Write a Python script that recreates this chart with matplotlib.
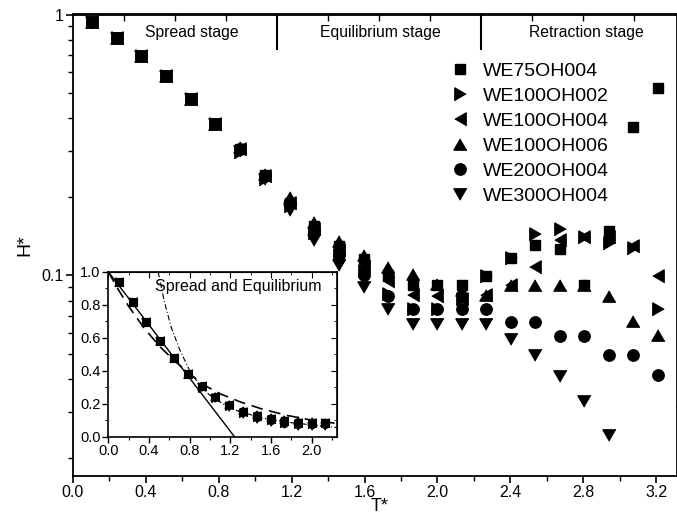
import matplotlib
matplotlib.use('Agg')
import matplotlib.pyplot as plt
import numpy as np
from matplotlib.ticker import MultipleLocator, FixedLocator, NullFormatter, FixedFormatter, LogLocator

plt.rcParams['font.family'] = ['Liberation Sans', 'DejaVu Sans']

nan = np.nan
T = [0.103, 0.241, 0.375, 0.510, 0.647, 0.781, 0.918, 1.052, 1.189, 1.323, 1.460, 1.595,
     1.731, 1.866, 2.000, 2.134, 2.268, 2.403, 2.537, 2.671, 2.806, 2.942, 3.076, 3.212, 3.350]

we75oh004 = [0.94, 0.815, 0.695, 0.582, 0.475, 0.381, 0.305, 0.242, 0.19, 0.155, 0.13, 0.115,
             0.100, 0.0916, 0.092, 0.0916, 0.0995, 0.116, 0.131, 0.126, 0.0916, 0.148, 0.369, 0.524, nan]
we100oh002 = [0.94, 0.815, 0.695, 0.582, 0.475, 0.381, 0.298, 0.235, 0.185, 0.145, 0.12, 0.104,
              0.085, 0.0745, 0.0745, 0.081, 0.0995, 0.116, 0.144, 0.150, 0.140, 0.133, 0.127, 0.0745, 0.0745]
we100oh004 = [0.94, 0.815, 0.695, 0.582, 0.475, 0.381, 0.305, 0.240, 0.19, 0.15, 0.125, 0.108,
              0.095, 0.0837, 0.083, 0.081, 0.0837, 0.0916, 0.108, 0.136, 0.140, 0.140, 0.130, 0.0995, 0.138]
we100oh006 = [0.94, 0.815, 0.695, 0.582, 0.475, 0.381, 0.31, 0.245, 0.20, 0.16, 0.135, 0.12,
              0.108, 0.101, 0.093, 0.088, 0.0837, 0.0916, 0.0916, 0.0916, 0.0916, 0.083, 0.067, 0.059, 0.033]
we200oh004 = [0.94, 0.815, 0.695, 0.582, 0.475, 0.381, 0.305, 0.24, 0.19, 0.148, 0.12, 0.10,
              0.083, 0.0745, 0.0745, 0.0745, 0.0745, 0.0665, 0.0665, 0.0584, 0.0584, 0.0495, 0.0495, 0.0414, nan]
we300oh004 = [0.94, 0.815, 0.695, 0.582, 0.475, 0.381, 0.30, 0.235, 0.178, 0.137, 0.11, 0.090,
              0.074, 0.065, 0.065, 0.065, 0.065, 0.0572, 0.0495, 0.0412, 0.033, 0.0245, nan, nan, nan]

# equilateral triangle markers (Origin style)
a = 1.1547
tri_up = [(0, 1), (-a, -1), (a, -1)]
tri_down = [(0, -1), (-a, 1), (a, 1)]
tri_right = [(1, 0), (-1, a), (-1, -a)]
tri_left = [(-1, 0), (1, a), (1, -a)]

series = [("WE75OH004", we75oh004, 's', 6.7),
          ("WE100OH002", we100oh002, tri_right, 9.4),
          ("WE100OH004", we100oh004, tri_left, 9.4),
          ("WE100OH006", we100oh006, tri_up, 9.4),
          ("WE200OH004", we200oh004, 'o', 8.2),
          ("WE300OH004", we300oh004, tri_down, 9.4)]

stage_labels = ["Spread stage", "Equilibrium stage", "Retraction stage"]
stage_centers = [0.651, 1.688, 2.816]
stage_bounds = [1.12, 2.24]

# inset fitted curves
solid_T = [0.0, 1.24]
solid_H = [1.0, 0.0]
dash_T = [0.0, 0.1, 0.2, 0.35, 0.5, 0.65, 0.8, 0.95, 1.1, 1.3, 1.5, 1.75, 2.0, 2.25]
dash_H = [1.0, 0.89, 0.79, 0.66, 0.55, 0.46, 0.38, 0.31, 0.26, 0.21, 0.17, 0.13, 0.10, 0.08]
dashdot_T = [0.49, 0.55, 0.62, 0.70, 0.80, 0.90, 1.0, 1.2, 1.5, 1.8, 2.25]
dashdot_H = [1.0, 0.82, 0.66, 0.53, 0.40, 0.31, 0.25, 0.17, 0.115, 0.085, 0.055]

W, H = 677, 515
fig = plt.figure(figsize=(W / 100, H / 100), dpi=100)
ax = fig.add_axes([73 / W, 39 / H, 604 / W, 461.5 / H])

for name, vals, m, ms in series:
    ax.plot(T, vals, linestyle='none', marker=m, markersize=ms, color='black', label=name)

ax.set_yscale('log')
ax.set_ylim(0.0170, 1.0)
ax.set_xlim(0, 3.315)
ax.yaxis.set_major_locator(FixedLocator([0.1, 1.0]))
ax.yaxis.set_major_formatter(FixedFormatter(['0.1', '1']))
ax.yaxis.set_minor_locator(LogLocator(base=10, subs=np.arange(2, 10)))
ax.yaxis.set_minor_formatter(NullFormatter())
ax.xaxis.set_major_locator(MultipleLocator(0.4))
ax.xaxis.set_minor_locator(MultipleLocator(0.2))
ax.xaxis.set_major_formatter(matplotlib.ticker.FormatStrFormatter('%.1f'))
ax.tick_params(axis='both', which='major', direction='out', length=5, width=1.2, labelsize=11.5, pad=1.5)
ax.tick_params(axis='both', which='minor', direction='out', length=3.5, width=1.0)
ax.tick_params(top=False, right=False, which='both')
for s in ax.spines.values():
    s.set_linewidth(1.3)
ax.set_xlabel('T*', fontsize=13, va='top')
ax.xaxis.set_label_coords((380 - 73) / 604, -(498 - 476) / 461.5)
ax.set_ylabel('H*', fontsize=14, labelpad=6)

sec = ax.secondary_xaxis('top')
sec.xaxis.set_major_locator(FixedLocator(stage_bounds))
sec.xaxis.set_minor_locator(FixedLocator([0.28 * k for k in range(1, 12) if k not in (4, 8)]))
sec.tick_params(which='major', direction='in', length=26, width=1.5, labeltop=False)
sec.tick_params(which='minor', direction='in', length=5, width=1.0)
sec.spines['top'].set_linewidth(1.3)

for lab, xc in zip(stage_labels, stage_centers):
    ax.text(xc, 0.96, lab, transform=ax.get_xaxis_transform(), ha='center', va='center', fontsize=11.3)

leg = ax.legend(loc='upper left', bbox_to_anchor=(450 / W, 1 - 62 / H), bbox_transform=fig.transFigure,
                frameon=False, fontsize=14, handlelength=1.0, handletextpad=0.7, labelspacing=0.38,
                borderpad=0, borderaxespad=0)

# inset
axi = fig.add_axes([108.3 / W, (H - 436.7) / H, 228.4 / W, 165 / H])
axi.set_facecolor('white')
nin = 16
for name, vals, m, ms in series:
    axi.plot(T[:nin], vals[:nin], linestyle='none', marker=m, markersize=ms * 0.68, color='black')
axi.plot(solid_T, solid_H, '-', color='black', lw=1.0)
axi.plot(dash_T, dash_H, color='black', lw=1.2, dashes=(7, 4))
axi.plot(dashdot_T, dashdot_H, color='black', lw=0.8, dashes=(5, 2, 1, 2))
axi.set_xlim(0, 2.245)
axi.set_ylim(0, 1.0)
axi.xaxis.set_major_locator(MultipleLocator(0.4))
axi.xaxis.set_minor_locator(MultipleLocator(0.2))
axi.yaxis.set_major_locator(MultipleLocator(0.2))
axi.yaxis.set_minor_locator(MultipleLocator(0.1))
axi.xaxis.set_major_formatter(matplotlib.ticker.FormatStrFormatter('%.1f'))
axi.yaxis.set_major_formatter(matplotlib.ticker.FormatStrFormatter('%.1f'))
axi.tick_params(which='major', direction='out', length=4, width=1.0, labelsize=10.5, pad=1.5)
axi.tick_params(which='minor', direction='out', length=2.5, width=0.8)
for s in axi.spines.values():
    s.set_linewidth(1.2)
sx = axi.secondary_xaxis('top')
sx.xaxis.set_major_locator(MultipleLocator(0.4))
sx.xaxis.set_minor_locator(MultipleLocator(0.2))
sx.tick_params(which='major', direction='in', length=4, labeltop=False)
sx.tick_params(which='minor', direction='in', length=2.5)
sy = axi.secondary_yaxis('right')
sy.yaxis.set_major_locator(MultipleLocator(0.2))
sy.yaxis.set_minor_locator(MultipleLocator(0.1))
sy.tick_params(which='major', direction='in', length=4, labelright=False)
sy.tick_params(which='minor', direction='in', length=2.5)
axi.text(1.274, 0.909, 'Spread and Equilibrium', ha='center', va='center', fontsize=11.5)

fig.savefig('out.png', dpi=100)
